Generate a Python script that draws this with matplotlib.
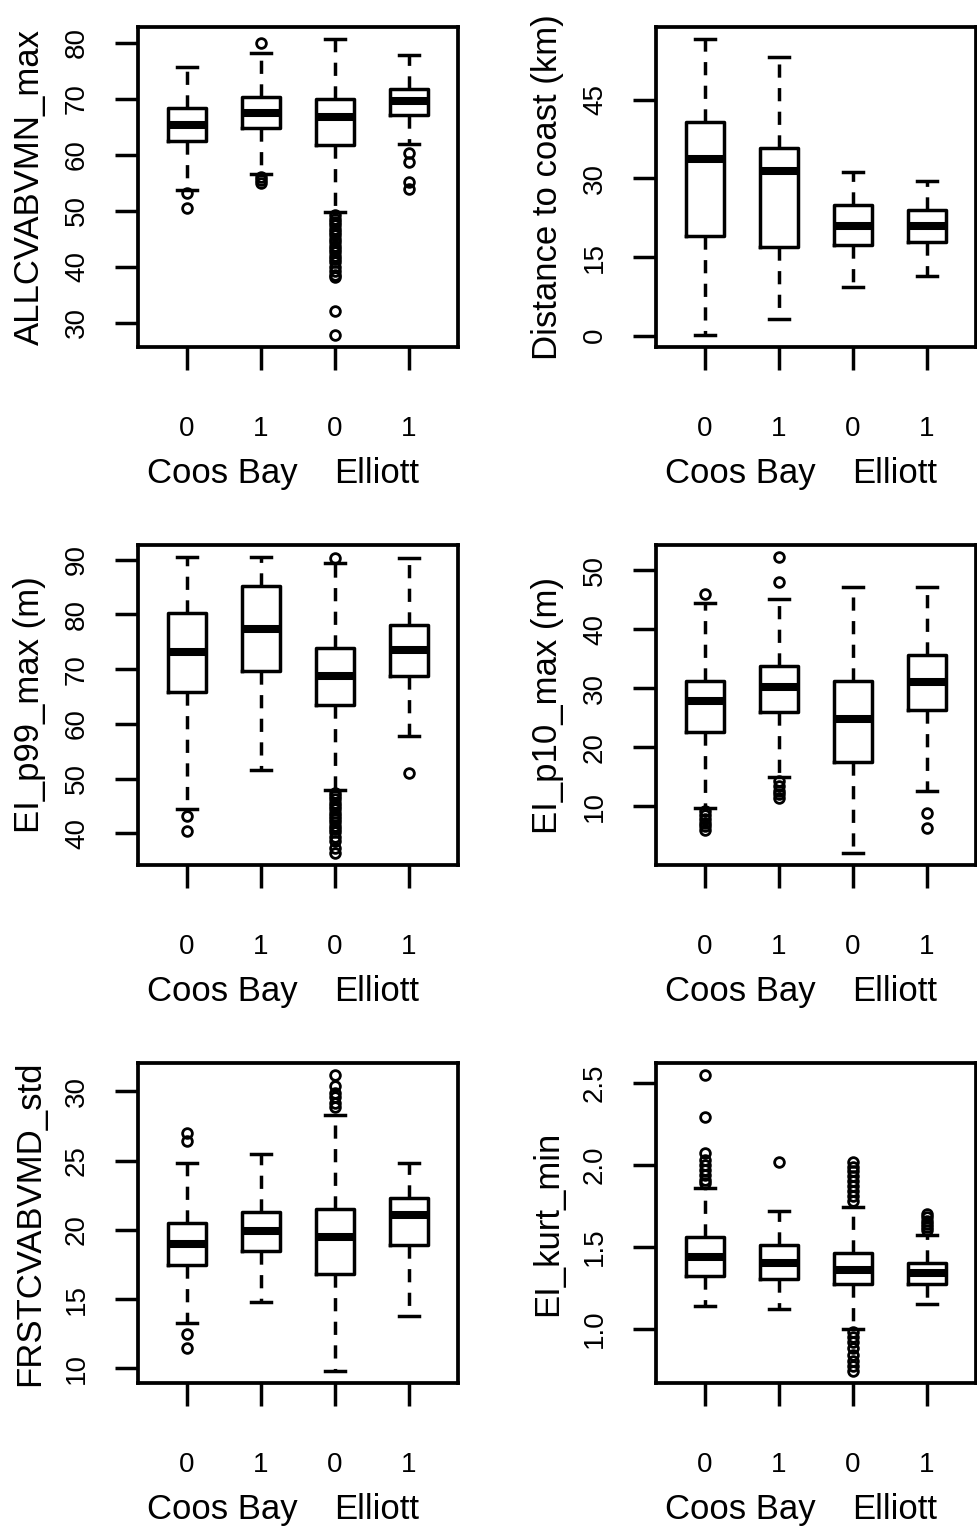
import matplotlib
matplotlib.use("Agg")
import matplotlib.pyplot as plt
import matplotlib.transforms as mtransforms

plt.rcParams["font.family"] = ["Liberation Sans", "DejaVu Sans"]

group_labels = ["0", "1", "0", "1"]
site_labels = ["Coos Bay", "Elliott"]
site_pos = [1.48, 3.56]

# each box: whislo, q1, median, q3, whishi
allcv_box = [
    [53.7, 62.4, 65.3, 68.3, 75.6],
    [56.6, 64.8, 67.4, 70.3, 78.1],
    [49.8, 61.7, 66.8, 69.9, 80.7],
    [62.0, 67.1, 69.6, 71.7, 77.8],
]
allcv_out = [
    [53.2, 50.5],
    [80.0, 56.1, 55.5, 55.0],
    [49.2, 48.6, 48.0, 47.4, 46.8, 46.2, 45.6, 45.0, 44.4, 43.8, 43.2,
     42.6, 42.0, 41.4, 40.8, 40.0, 39.2, 38.6, 38.2, 32.2, 27.8],
    [60.4, 58.8, 55.2, 53.9],
]

coast_box = [
    [0.1, 19.1, 33.6, 40.7, 56.6],
    [3.2, 17.0, 31.4, 35.8, 53.2],
    [9.2, 17.2, 21.0, 24.9, 31.2],
    [11.3, 17.9, 20.9, 23.9, 29.4],
]
coast_out = [[], [], [], []]

p99_box = [
    [44.4, 65.8, 73.2, 80.3, 90.5],
    [51.6, 69.7, 77.3, 85.1, 90.5],
    [48.0, 63.4, 68.7, 73.8, 89.3],
    [57.7, 68.7, 73.5, 78.1, 90.3],
]
p99_out = [
    [43.2, 40.5],
    [],
    [90.2, 47.3, 46.8, 46.2, 45.6, 45.0, 44.4, 43.8, 43.2, 42.6, 42.0,
     41.4, 40.8, 40.2, 39.4, 38.6, 37.4, 36.4],
    [51.1],
]

p10_box = [
    [9.7, 22.5, 27.8, 31.2, 44.4],
    [15.0, 25.9, 30.2, 33.8, 45.2],
    [2.0, 17.5, 24.8, 31.2, 47.1],
    [12.5, 26.3, 31.0, 35.6, 47.1],
]
p10_out = [
    [46.0, 9.2, 8.5, 7.8, 7.2, 6.6, 6.0],
    [52.3, 48.1, 14.2, 13.4, 12.6, 12.0, 11.4],
    [],
    [8.9, 6.3],
]

frst_box = [
    [13.3, 17.5, 19.0, 20.5, 24.8],
    [14.8, 18.5, 19.9, 21.3, 25.5],
    [9.8, 16.8, 19.5, 21.5, 28.3],
    [13.8, 18.9, 21.1, 22.3, 24.8],
]
frst_out = [
    [27.0, 26.4, 12.5, 11.5],
    [],
    [31.2, 30.4, 29.9, 29.6, 29.2, 28.9],
    [],
]

kurt_box = [
    [1.14, 1.32, 1.44, 1.56, 1.86],
    [1.12, 1.30, 1.40, 1.51, 1.72],
    [0.995, 1.27, 1.36, 1.46, 1.74],
    [1.15, 1.27, 1.34, 1.40, 1.57],
]
kurt_out = [
    [2.55, 2.29, 2.07, 2.03, 2.00, 1.97, 1.94, 1.91, 1.89],
    [2.02],
    [2.02, 1.99, 1.96, 1.93, 1.90, 1.87, 1.84, 1.81, 1.78,
     0.98, 0.95, 0.92, 0.88, 0.84, 0.80, 0.77, 0.74],
    [1.70, 1.68, 1.66, 1.64, 1.62, 1.60],
]

panels = [
    ("ALLCVABVMN_max", allcv_box, allcv_out, [30, 40, 50, 60, 70, 80],
     ["30", "40", "50", "60", "70", "80"]),
    ("Distance to coast (km)", coast_box, coast_out, [0, 15, 30, 45],
     ["0", "15", "30", "45"]),
    ("EI_p99_max (m)", p99_box, p99_out, [40, 50, 60, 70, 80, 90],
     ["40", "50", "60", "70", "80", "90"]),
    ("EI_p10_max (m)", p10_box, p10_out, [10, 20, 30, 40, 50],
     ["10", "20", "30", "40", "50"]),
    ("FRSTCVABVMD_std", frst_box, frst_out, [10, 15, 20, 25, 30],
     ["10", "15", "20", "25", "30"]),
    ("EI_kurt_min", kurt_box, kurt_out, [1.0, 1.5, 2.0, 2.5],
     ["1.0", "1.5", "2.0", "2.5"]),
]

W, H = 978, 1526
fig = plt.figure(figsize=(W / 100, H / 100), dpi=100)

lefts = [138, 656]
tops = [27, 545, 1063]
aw, ah = 320, 320
lw = 2.5

for i, (ylab, boxes, outs, yt, ytl) in enumerate(panels):
    col, row = i % 2, i // 2
    ax = fig.add_axes([lefts[col] / W, 1 - (tops[row] + ah) / H, aw / W, ah / H])

    stats = []
    allv = []
    for b, o in zip(boxes, outs):
        stats.append(dict(whislo=b[0], q1=b[1], med=b[2], q3=b[3], whishi=b[4], fliers=o))
        allv += b + o
    ax.bxp(stats, positions=[1, 2, 3, 4], widths=0.52, capwidths=0.28,
           manage_ticks=False,
           boxprops=dict(color="black", linewidth=lw),
           whiskerprops=dict(color="black", linewidth=lw, linestyle=(0, (3.8, 3.0))),
           capprops=dict(color="black", linewidth=lw),
           medianprops=dict(color="black", linewidth=5.8, solid_capstyle="butt"),
           flierprops=dict(marker="o", markersize=7, markerfacecolor="none",
                           markeredgecolor="black", markeredgewidth=2.0))

    lo, hi = min(allv), max(allv)
    pad = 0.04 * (hi - lo)
    ax.set_ylim(lo - pad, hi + pad)
    ax.set_xlim(0.34, 4.66)

    ax.set_xticks([1, 2, 3, 4])
    ax.set_xticklabels(group_labels, fontsize=20)
    ax.set_yticks(yt)
    ax.set_yticklabels(ytl, fontsize=20, rotation=90, va="center")
    ax.tick_params(axis="x", direction="out", length=16.5, width=lw, pad=33)
    ax.tick_params(axis="y", direction="out", length=16.5, width=lw, pad=18)
    for s in ax.spines.values():
        s.set_linewidth(2.7)

    ax.set_ylabel(ylab, fontsize=25)
    ax.yaxis.set_label_coords(-0.2875, 0.5)

    trans = mtransforms.blended_transform_factory(ax.transData, ax.transAxes)
    for name, xp in zip(site_labels, site_pos):
        ax.text(xp, -0.425, name, transform=trans, ha="center", va="baseline",
                fontsize=25)

fig.savefig("out.png", dpi=100)
